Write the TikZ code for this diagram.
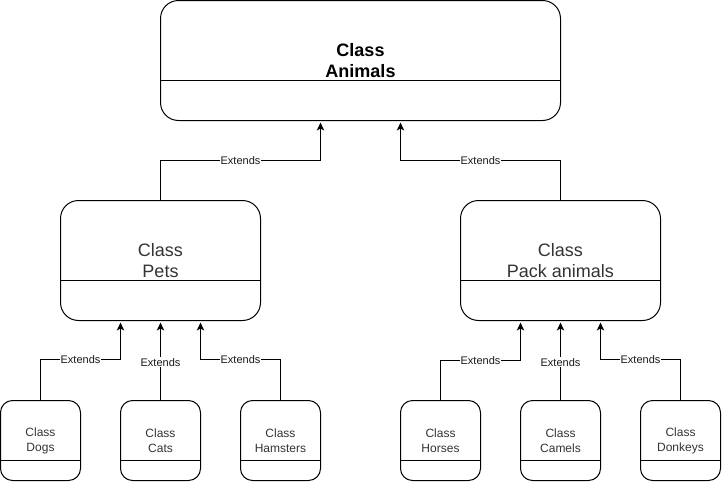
\documentclass[tikz,border=0pt]{standalone}
\usepackage{fontspec}
\setmainfont{Liberation Sans}
\usepackage{xcolor}
\definecolor{colorText}{HTML}{333333}
\usetikzlibrary{arrows.meta, positioning}
\tikzset{
  bigclass/.style={draw, rounded corners=13.5pt, minimum width=150pt, minimum height=90pt, align=center, inner sep=0pt, outer sep=0pt, text=colorText, font=\fontsize{13.5}{16.3}\selectfont},
  smallclass/.style={draw, rounded corners=9pt, minimum width=60pt, minimum height=60pt, align=center, inner sep=0pt, outer sep=0pt, text=colorText, font=\fontsize{9}{11.25}\selectfont},
  extends/.style={-{Stealth[length=6pt, width=5.5pt, inset=1.5pt]}, shorten >=1.5pt},
  extlabel/.style={fill=white, inner sep=0.75pt, text=black!90, font=\fontsize{8.25}{9.9}\selectfont}
}
\begin{document}
\begin{tikzpicture}[x=0.75pt, y=-0.75pt, line width=0.75pt, node distance=90pt]
\useasboundingbox (-0.5,-0.5) rectangle (721.5,481.5);
\node[bigclass, minimum width=300pt, text=black, font=\bfseries\fontsize{13.5}{16.3}\selectfont] (animals) at (360,60) {Class\\Animals};
\node[bigclass] (pets) at (160,260) {Class\\Pets};
\node[bigclass, right of=pets, node distance=300pt] (pack) {Class\\Pack animals};
\node[smallclass] (dogs) at (40,440) {Class\\Dogs};
\node[smallclass, right of=dogs] (cats) {Class\\Cats};
\node[smallclass, right of=cats] (hamsters) {Class\\Hamsters};
\node[smallclass] (horses) at (440,440) {Class\\Horses};
\node[smallclass, right of=horses] (camels) {Class\\Camels};
\node[smallclass, right of=camels] (donkeys) {Class\\Donkeys};
\foreach \n in {animals, pets, pack}
  \draw ([yshift=30pt]\n.south west) -- ([yshift=30pt]\n.south east);
\foreach \n in {dogs, cats, hamsters, horses, camels, donkeys}
  \draw ([yshift=15pt]\n.south west) -- ([yshift=15pt]\n.south east);
\draw [extends] (pets.north) -- ++(0,-40) -| node[extlabel, pos=0.25]{Extends} ([xshift=-30pt]animals.south);
\draw [extends] (pack.north) -- ++(0,-40) -| node[extlabel, pos=0.25]{Extends} ([xshift=30pt]animals.south);
\draw [extends] (dogs.north) -- ++(0,-41) -| node[extlabel, pos=0.25]{Extends} ([xshift=-30pt]pets.south);
\draw [extends] (cats.north) -- node[extlabel, pos=0.48]{Extends} (pets.south);
\draw [extends] (hamsters.north) -- ++(0,-41) -| node[extlabel, pos=0.25]{Extends} ([xshift=30pt]pets.south);
\draw [extends] (horses.north) -- ++(0,-40) -| node[extlabel, pos=0.25]{Extends} ([xshift=-30pt]pack.south);
\draw [extends] (camels.north) -- node[extlabel, pos=0.48]{Extends} (pack.south);
\draw [extends] (donkeys.north) -- ++(0,-41) -| node[extlabel, pos=0.25]{Extends} ([xshift=30pt]pack.south);
\end{tikzpicture}
\end{document}
